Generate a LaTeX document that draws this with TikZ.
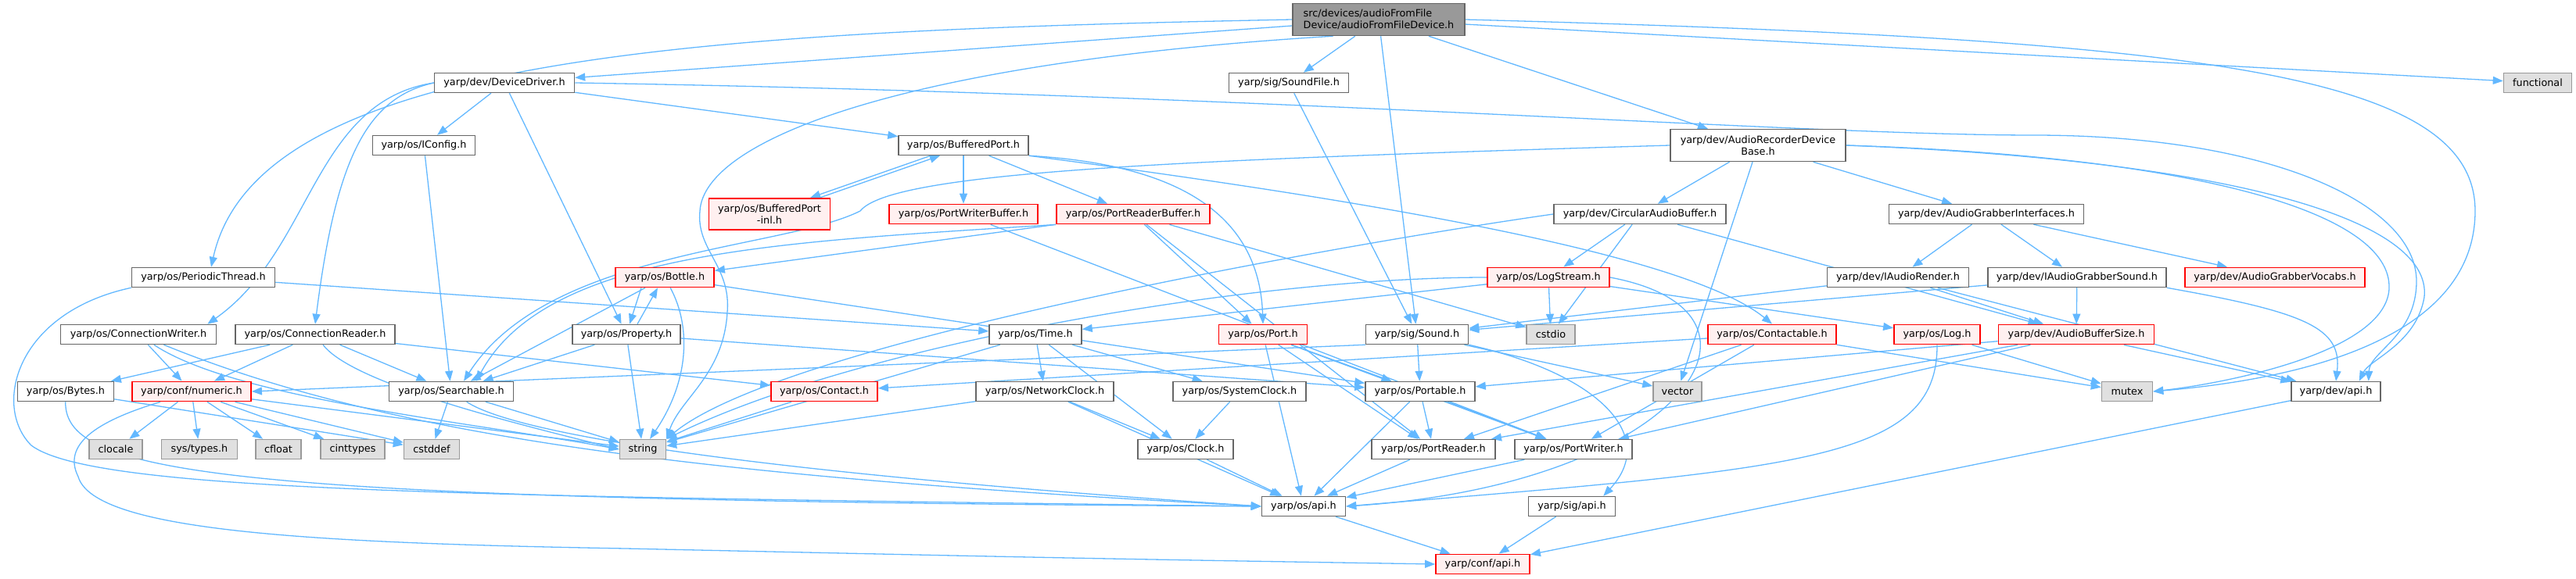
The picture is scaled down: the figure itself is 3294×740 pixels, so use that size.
\documentclass[tikz,border=0pt]{standalone}
\usepackage{fontspec}
\setmainfont{DejaVu Sans}
\usetikzlibrary{arrows.meta,backgrounds}
\definecolor{edgeblue}{HTML}{63B8FF}
\definecolor{boxgray}{HTML}{666666}
\definecolor{sysgray}{HTML}{999999}
\definecolor{sysfill}{HTML}{E0E0E0}
\definecolor{redfill}{HTML}{FFF0F0}
\tikzset{hdr/.style={draw=boxgray,fill=white,line width=.75pt,inner sep=0pt,minimum height=12.5pt,minimum width=#1*.5pt,font=\fontsize{6.4}{7.6}\selectfont}, hdrred/.style={hdr=#1,draw=red,line width=.9pt,fill=redfill}, hdrsys/.style={hdr=#1,draw=sysgray,fill=sysfill}, hdrtop/.style={hdr=#1,fill=sysgray,minimum height=20.5pt,align=left}, dep/.style={draw=edgeblue,line width=.65pt,-{Triangle[length=6.5pt,width=5pt]}}}

\begin{document}
\begin{tikzpicture}[x=.5pt,y=.5pt]
\useasboundingbox (0,0) rectangle (3294,740);
\node[hdrtop=220] (main) at (1763,715) {src/devices/audioFromFile\\Device/audioFromFileDevice.h};
\node[hdr=179] (devdrv) at (645,634) {yarp/dev/DeviceDriver.h};
\node[hdr=153] (sndfile) at (1648,634) {yarp/sig/SoundFile.h};
\node[hdrsys=87] (functional) at (3245,634) {functional};
\node[hdr=131] (iconfig) at (542,554) {yarp/os/IConfig.h};
\node[hdr=166] (bufport) at (1232,554) {yarp/os/BufferedPort.h};
\node[hdr=224,align=center,minimum height=20.5pt] (recbase) at (2248,554) {yarp/dev/AudioRecorderDevice\\Base.h};
\node[hdrred=155,align=center,minimum height=20pt] (bufinl) at (984,466) {yarp/os/BufferedPort\\-inl.h};
\node[hdrred=190] (pwbuf) at (1232,466) {yarp/os/PortWriterBuffer.h};
\node[hdrred=196] (prbuf) at (1449,466) {yarp/os/PortReaderBuffer.h};
\node[hdr=220] (circbuf) at (2097,466) {yarp/dev/CircularAudioBuffer.h};
\node[hdr=249] (grabif) at (2540,466) {yarp/dev/AudioGrabberInterfaces.h};
\node[hdr=183] (perthread) at (260,385) {yarp/os/PeriodicThread.h};
\node[hdrred=126] (bottle) at (850,385) {yarp/os/Bottle.h};
\node[hdrred=156] (logstream) at (1980,385) {yarp/os/LogStream.h};
\node[hdr=181] (iarender) at (2427,385) {yarp/dev/IAudioRender.h};
\node[hdr=228] (grabsnd) at (2656,385) {yarp/dev/IAudioGrabberSound.h};
\node[hdrred=230] (grabvoc) at (2909,385) {yarp/dev/AudioGrabberVocabs.h};
\node[hdr=199] (connwr) at (177,312) {yarp/os/ConnectionWriter.h};
\node[hdr=204] (connrd) at (403,312) {yarp/os/ConnectionReader.h};
\node[hdr=138] (property) at (801,312) {yarp/os/Property.h};
\node[hdr=118] (time) at (1324,312) {yarp/os/Time.h};
\node[hdrred=113] (port) at (1615,312) {yarp/os/Port.h};
\node[hdr=131] (sound) at (1812,312) {yarp/sig/Sound.h};
\node[hdrsys=62] (cstdio) at (1983,312) {cstdio};
\node[hdrred=164] (contactable) at (2266,312) {yarp/os/Contactable.h};
\node[hdrred=110] (log) at (2477,312) {yarp/os/Log.h};
\node[hdrred=199] (bufsize) at (2655,312) {yarp/dev/AudioBufferSize.h};
\node[hdr=123] (bytes) at (84,239) {yarp/os/Bytes.h};
\node[hdrred=152] (numeric) at (245,239) {yarp/conf/numeric.h};
\node[hdr=159] (searchable) at (577,239) {yarp/os/Searchable.h};
\node[hdrred=136] (contact) at (1054,239) {yarp/os/Contact.h};
\node[hdr=176] (netclock) at (1336,239) {yarp/os/NetworkClock.h};
\node[hdr=170] (sysclock) at (1585,239) {yarp/os/SystemClock.h};
\node[hdr=140] (portable) at (1816,239) {yarp/os/Portable.h};
\node[hdrsys=62] (vector) at (2145,239) {vector};
\node[hdrsys=65] (mutex) at (2720,239) {mutex};
\node[hdr=114] (devapi) at (2987,239) {yarp/dev/api.h};
\node[hdrsys=68] (clocale) at (148,165) {clocale};
\node[hdrsys=97] (systypes) at (255,165) {sys/types.h};
\node[hdrsys=58] (cfloat) at (356,165) {cfloat};
\node[hdrsys=82] (cinttypes) at (451,165) {cinttypes};
\node[hdrsys=71] (cstddef) at (552,165) {cstddef};
\node[hdrsys=59] (string) at (822,165) {string};
\node[hdr=122] (clock) at (1516,165) {yarp/os/Clock.h};
\node[hdr=158] (portrd) at (1833,165) {yarp/os/PortReader.h};
\node[hdr=150] (portwr) at (2012,165) {yarp/os/PortWriter.h};
\node[hdr=107] (osapi) at (1667,92) {yarp/os/api.h};
\node[hdr=111] (sigapi) at (2010,92) {yarp/sig/api.h};
\node[hdrred=120] (confapi) at (1896,18) {yarp/conf/api.h};

\begin{scope}[on background layer]
\foreach \a/\b in {main/devdrv,main/sndfile,main/recbase,main/functional,main/sound,devdrv/iconfig,devdrv/bufport,devdrv/property,iconfig/searchable,bufport/pwbuf,bufport/prbuf,sndfile/sound,recbase/circbuf,recbase/grabif,recbase/vector,perthread/time,connwr/numeric,connrd/bytes,connrd/numeric,connrd/searchable,connrd/contact,bytes/cstddef,numeric/clocale,numeric/systypes,numeric/cfloat,numeric/cinttypes,numeric/cstddef,numeric/string,searchable/cstddef,searchable/string,property/searchable,property/string,property/portable,bottle/searchable,bottle/portable,prbuf/bottle,prbuf/port,prbuf/cstdio,prbuf/portrd,pwbuf/portwr,time/netclock,time/sysclock,time/clock,time/string,netclock/clock,netclock/osapi,netclock/string,sysclock/clock,clock/osapi,contact/string,port/portable,port/osapi,port/portrd,port/portwr,circbuf/logstream,circbuf/cstdio,circbuf/bufsize,logstream/cstdio,logstream/log,logstream/time,sound/portable,sound/vector,contactable/contact,contactable/portrd,contactable/portwr,contactable/mutex,log/mutex,iarender/sound,iarender/bufsize,iarender/devapi,grabif/iarender,grabif/grabsnd,grabif/grabvoc,grabsnd/bufsize,grabsnd/sound,bufsize/devapi,bufsize/portable,bufsize/portrd,bufsize/portwr,portable/portrd,portable/portwr,portable/osapi,portrd/osapi,portwr/osapi,osapi/confapi,sigapi/confapi,devapi/confapi}
  \draw[dep] (\a) -- (\b);
\draw[dep] (main.west) .. controls (900,700) and (330,670) .. ([xshift=5pt]perthread.north);
\draw[dep] (main.200) .. controls (1150,660) and (900,560) .. (895,470) .. controls (890,420) and (935,400) .. (930,340) .. controls (925,260) and (870,230) .. (string.north east);
\draw[dep] (main.east) .. controls (2800,690) and (3165,650) .. (3165,470) .. controls (3165,330) and (3000,260) .. (mutex.east);
\draw[dep] (devdrv.west) .. controls (400,610) and (400,420) .. ([xshift=-6pt]connwr.north east);
\draw[dep] (devdrv.west) .. controls (470,615) and (430,540) .. (connrd.north);
\draw[dep] (devdrv.east) .. controls (1600,620) and (2300,567) .. (2600,567) .. controls (2900,567) and (3090,480) .. (3090,380) .. controls (3090,310) and (3030,290) .. ([xshift=-8pt]devapi.north east);
\draw[dep] (perthread.south west) .. controls (20,340) and (-10,220) .. (40,170) .. controls (120,110) and (600,105) .. (osapi.west);
\draw[dep] (bytes) .. controls (82,130) and (300,100) .. (osapi.west);
\draw[dep] ([xshift=-20pt]numeric.south) .. controls (120,200) and (80,170) .. (100,130) .. controls (120,60) and (400,45) .. (800,38) .. controls (1400,25) .. (confapi.west);
\draw[dep] (connwr) .. controls (300,230) and (600,200) .. (string.west);
\draw[dep] (connwr) .. controls (500,180) and (900,130) .. (osapi.west);
\draw[dep] (connrd) .. controls (450,250) and (650,200) .. (string.west);
\draw[dep] (searchable) .. controls (650,190) and (900,140) .. (osapi.west);
\draw[dep] (bottle) .. controls (885,320) and (880,250) .. (string);
\draw[dep] ([xshift=-15pt]bottle.south) -- ([xshift=2pt]property.north);
\draw[dep] ([xshift=7pt]property.north) -- ([xshift=-4.5pt]bottle.south);
\draw[dep] ([xshift=-21pt]bufport.south) -- ([xshift=26pt]bufinl.north);
\draw[dep] ([xshift=32pt]bufinl.north) -- ([xshift=-15pt]bufport.south);
\draw[dep] (bufport.south east) .. controls (1500,530) and (1610,470) .. (port.north);
\draw[dep] (bufport.south east) .. controls (1700,490) and (2150,420) .. (contactable.north);
\draw[dep] (recbase.west) .. controls (1500,535) and (1140,520) .. (1100,470) .. controls (1000,420) and (700,420) .. ([xshift=8pt]searchable.north);
\draw[dep] (recbase.east) .. controls (2800,540) and (3060,470) .. (3055,370) .. controls (3050,290) and (2850,250) .. (mutex.east);
\draw[dep] (recbase.east) .. controls (2850,535) and (3110,460) .. (3100,360) .. controls (3090,300) and (3030,280) .. ([xshift=-14pt]devapi.north east);
\draw[dep] (prbuf.south west) .. controls (1000,430) and (700,420) .. ([xshift=16pt]searchable.north);
\draw[dep] (circbuf.west) .. controls (1700,425) and (1000,300) .. (string.north east);
\draw[dep] (logstream.west) .. controls (1600,385) and (1100,300) .. (string.north east);
\draw[dep] (logstream.east) .. controls (2300,340) and (2150,120) .. (osapi.east);
\draw[dep] (log.south) .. controls (2478,150) and (2300,140) .. (osapi.east);
\draw[dep] (grabsnd.south east) .. controls (2950,340) and (2995,320) .. (devapi.north);
\draw[dep] (sound.south east) .. controls (2050,260) and (2120,180) .. ([xshift=-8pt]sigapi.north east);
\draw[dep] (sound.south west) -- (numeric.east);
\end{scope}
\end{tikzpicture}
\end{document}
